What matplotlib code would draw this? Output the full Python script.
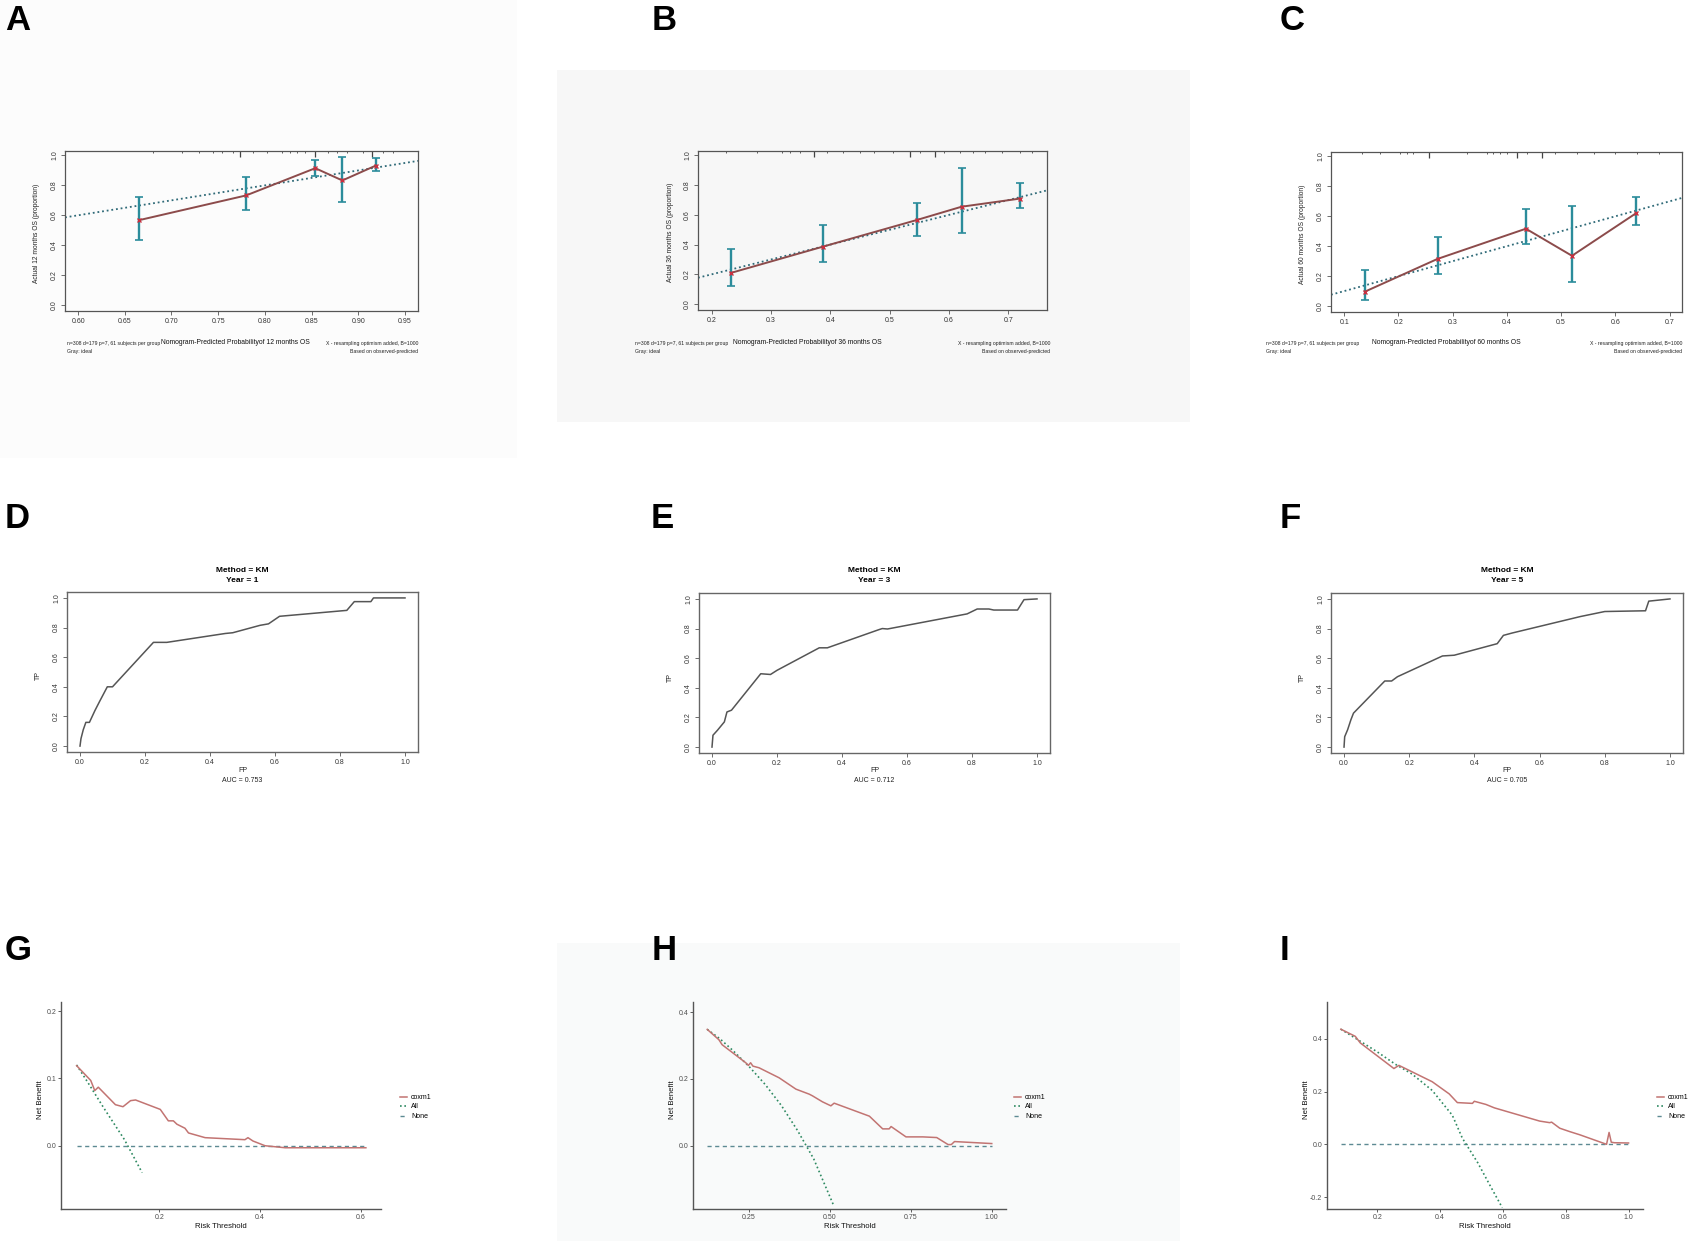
import matplotlib
matplotlib.use('Agg')
import matplotlib.pyplot as plt
from matplotlib.lines import Line2D
from matplotlib.patches import Rectangle
import numpy as np

plt.rcParams['font.family'] = ['Liberation Sans', 'DejaVu Sans']

# ---------------- data ----------------
# Calibration (A-C)
a_pred = [0.665, 0.780, 0.854, 0.883, 0.919]
a_obs = [0.567, 0.733, 0.915, 0.833, 0.933]
a_lo = [0.438, 0.638, 0.860, 0.689, 0.893]
a_hi = [0.722, 0.855, 0.973, 0.993, 0.982]
a_rug = [0.680, 0.711, 0.730, 0.745, 0.754, 0.766, 0.7875, 0.802, 0.818, 0.827, 0.834,
         0.843, 0.868, 0.877, 0.888, 0.905, 0.927, 0.9375]
a_rug_long = [0.773, 0.854, 0.915]

b_pred = [0.232, 0.388, 0.546, 0.621, 0.720]
b_obs = [0.209, 0.387, 0.566, 0.655, 0.710]
b_lo = [0.120, 0.280, 0.461, 0.476, 0.645]
b_hi = [0.372, 0.534, 0.683, 0.913, 0.815]
b_rug = [0.225, 0.276, 0.318, 0.332, 0.349, 0.394, 0.422, 0.450, 0.473, 0.506, 0.551,
         0.591, 0.619, 0.641, 0.660, 0.690, 0.720, 0.740]
b_rug_long = [0.373, 0.534, 0.577]

c_pred = [0.138, 0.272, 0.435, 0.520, 0.638]
c_obs = [0.096, 0.315, 0.517, 0.336, 0.620]
c_lo = [0.040, 0.211, 0.418, 0.160, 0.540]
c_hi = [0.238, 0.463, 0.647, 0.670, 0.730]
c_rug = [0.132, 0.166, 0.203, 0.215, 0.227, 0.326, 0.363, 0.375, 0.387, 0.400, 0.437,
         0.489, 0.530, 0.560, 0.600, 0.640, 0.680]
c_rug_long = [0.256, 0.418, 0.465]

# ROC (D-F)
d_fp = [0.0, 0.003, 0.010, 0.018, 0.029, 0.046, 0.060, 0.084, 0.100, 0.226, 0.267, 0.447,
        0.470, 0.554, 0.580, 0.614, 0.821, 0.844, 0.895, 0.903, 1.0]
d_tp = [0.0, 0.05, 0.11, 0.16, 0.16, 0.24, 0.30, 0.40, 0.40, 0.70, 0.70, 0.76,
        0.765, 0.815, 0.825, 0.876, 0.916, 0.975, 0.975, 1.0, 1.0]
e_fp = [0.0, 0.003, 0.017, 0.038, 0.046, 0.060, 0.150, 0.180, 0.200, 0.330, 0.355, 0.514,
        0.524, 0.540, 0.785, 0.816, 0.852, 0.867, 0.940, 0.960, 1.0]
e_tp = [0.0, 0.08, 0.114, 0.17, 0.237, 0.249, 0.495, 0.49, 0.518, 0.67, 0.67, 0.793,
        0.80, 0.797, 0.899, 0.932, 0.932, 0.925, 0.925, 0.995, 1.0]
f_fp = [0.0, 0.002, 0.011, 0.021, 0.029, 0.125, 0.146, 0.164, 0.302, 0.338, 0.470, 0.489,
        0.516, 0.725, 0.800, 0.925, 0.935, 1.0]
f_tp = [0.0, 0.07, 0.117, 0.184, 0.229, 0.446, 0.446, 0.475, 0.615, 0.62, 0.698, 0.754,
        0.77, 0.881, 0.915, 0.92, 0.985, 1.0]
auc_labels = ["AUC = 0.753", "AUC = 0.712", "AUC = 0.705"]
years = ["1", "3", "5"]

# DCA (G-I)
g_t = [0.036, 0.064, 0.072, 0.079, 0.113, 0.128, 0.143, 0.153, 0.202, 0.218, 0.228, 0.235,
       0.251, 0.258, 0.291, 0.370, 0.376, 0.386, 0.410, 0.450, 0.610]
g_nb = [0.119, 0.097, 0.082, 0.087, 0.061, 0.058, 0.067, 0.068, 0.054, 0.037, 0.037, 0.032,
        0.026, 0.019, 0.012, 0.009, 0.012, 0.007, 0.0, -0.003, -0.003]
g_all_t = [0.036, 0.060, 0.090, 0.131, 0.166]
g_all_nb = [0.120, 0.092, 0.056, 0.009, -0.040]

h_t = [0.121, 0.157, 0.167, 0.240, 0.248, 0.255, 0.262, 0.281, 0.343, 0.395, 0.436, 0.446,
       0.477, 0.503, 0.513, 0.622, 0.663, 0.683, 0.689, 0.735, 0.787, 0.830, 0.865, 0.875,
       0.885, 1.0]
h_nb = [0.348, 0.317, 0.302, 0.248, 0.240, 0.248, 0.238, 0.233, 0.203, 0.169, 0.154, 0.149,
        0.131, 0.119, 0.127, 0.088, 0.050, 0.050, 0.057, 0.026, 0.026, 0.024, 0.003, 0.003,
        0.012, 0.006]
h_all_t = [0.121, 0.160, 0.200, 0.250, 0.300, 0.350, 0.400, 0.450, 0.510]
h_all_nb = [0.348, 0.320, 0.285, 0.237, 0.183, 0.120, 0.045, -0.040, -0.176]

i_t = [0.084, 0.130, 0.146, 0.253, 0.269, 0.375, 0.429, 0.455, 0.503, 0.509, 0.546, 0.573,
       0.717, 0.749, 0.755, 0.781, 0.813, 0.845, 0.930, 0.938, 0.945, 0.955, 1.0]
i_nb = [0.436, 0.409, 0.384, 0.287, 0.299, 0.237, 0.191, 0.158, 0.155, 0.163, 0.151, 0.138,
        0.088, 0.082, 0.084, 0.061, 0.048, 0.036, 0.0, 0.045, 0.008, 0.006, 0.005]
i_all_t = [0.084, 0.141, 0.200, 0.258, 0.311, 0.375, 0.439, 0.471, 0.520, 0.560, 0.598]
i_all_nb = [0.436, 0.394, 0.350, 0.303, 0.266, 0.204, 0.110, 0.023, -0.070, -0.158, -0.240]

legend_labels = ["coxm1", "All", "None"]

# ---------------- figure ----------------
W, H = 1697, 1241
fig = plt.figure(figsize=(W / 100, H / 100), dpi=100)


def px_axes(l, t, r, b):
    ax = fig.add_axes([l / W, 1 - b / H, (r - l) / W, (b - t) / H])
    ax.set_facecolor('none')
    return ax


def ftext(x, y, s, **kw):
    fig.text(x / W, 1 - y / H, s, **kw)


# faint panel backgrounds
for (l, t, r, b, c) in [(557, 70, 1190, 422, '#f7f7f7'), (557, 943, 1180, 1241, '#f9fafa'),
                        (0, 0, 517, 458, '#fcfcfc')]:
    fig.patches.append(Rectangle((l / W, 1 - b / H), (r - l) / W, (b - t) / H,
                                 transform=fig.transFigure, color=c, zorder=-10, lw=0))

# panel letters
for s, x, y in [("A", 5, 21), ("B", 652, 21), ("C", 1280, 21),
                ("D", 5, 518), ("E", 651, 518), ("F", 1280, 518),
                ("G", 5, 950), ("H", 652, 950), ("I", 1280, 950)]:
    ftext(x, y, s, fontsize=25, fontweight='bold', ha='left', va='center')

# ---------------- calibration panels ----------------
ERR_C = '#2b8c9b'
LINE_C = '#8c4b4b'
DIAG_C = '#2f6a78'
AX_C = '#555555'


def calib(box, xlim, xticks, fmt, pred, obs, lo, hi, rug, rug_long, months, cap):
    ax = px_axes(*box)
    ax.set_xlim(xlim)
    ax.set_ylim(-0.04, 1.03)
    ax.plot(xlim, xlim, ls=(0, (1, 1.6)), color=DIAG_C, lw=1.3, zorder=2)
    obs_a = np.array(obs)
    ax.errorbar(pred, obs, yerr=[obs_a - np.array(lo), np.array(hi) - obs_a], fmt='none',
                ecolor=ERR_C, elinewidth=1.7, capsize=2.6, capthick=1.2, zorder=3)
    ax.plot(pred, obs, color=LINE_C, lw=1.4, zorder=4)
    ax.plot(pred, obs, 'x', color='#c83040', ms=2.8, mew=1.0, zorder=5)
    ax.vlines(rug, 1.03 - 0.012, 1.03, color='#444', lw=0.6)
    ax.vlines(rug_long, 1.03 - 0.04, 1.03, color='#444', lw=0.9)
    ax.set_xticks(xticks)
    ax.set_xticklabels([fmt % v for v in xticks])
    ax.set_yticks([0, 0.2, 0.4, 0.6, 0.8, 1.0])
    ax.set_yticklabels(['0.0', '0.2', '0.4', '0.6', '0.8', '1.0'], rotation=90, va='center')
    ax.tick_params(length=3, width=0.6, labelsize=5, color=AX_C, labelcolor='#333', pad=2)
    for sp in ax.spines.values():
        sp.set_color(AX_C)
        sp.set_linewidth(0.9)
    l, t, r, b = box
    ftext(l - 28, (t + b) / 2 + 2, "Actual %s months OS (proportion)" % months, rotation=90,
          fontsize=4.8, ha='center', va='center', color='#222')
    cl, cc, cr = cap
    ftext(cl, 344, "n=308 d=179 p=7, 61 subjects per group", fontsize=3.7, ha='left',
          va='center', color='#222')
    ftext(cl, 351, "Gray: ideal", fontsize=3.7, ha='left', va='center', color='#222')
    ftext(cc, 343, "Nomogram-Predicted Probabilityof %s months OS" % months, fontsize=4.9,
          ha='center', va='center', color='#111')
    ftext(cr, 344, "X - resampling optimism added, B=1000", fontsize=3.7, ha='right',
          va='center', color='#222')
    ftext(cr, 351, "Based on observed-predicted", fontsize=3.7, ha='right', va='center',
          color='#222')
    return ax


calib((65, 151, 418, 311), (0.586, 0.964), [0.60, 0.65, 0.70, 0.75, 0.80, 0.85, 0.90, 0.95],
      '%.2f', a_pred, a_obs, a_lo, a_hi, a_rug, a_rug_long, "12", (67, 235, 418))
calib((698, 151, 1047, 310), (0.177, 0.765), [0.2, 0.3, 0.4, 0.5, 0.6, 0.7],
      '%.1f', b_pred, b_obs, b_lo, b_hi, b_rug, b_rug_long, "36", (635, 807, 1050))
calib((1331, 152, 1682, 312), (0.0755, 0.723), [0.1, 0.2, 0.3, 0.4, 0.5, 0.6, 0.7],
      '%.1f', c_pred, c_obs, c_lo, c_hi, c_rug, c_rug_long, "60", (1266, 1446, 1682))

# ---------------- ROC panels ----------------
roc_boxes = [(67, 592, 418, 752), (699, 593, 1050, 753), (1331, 593, 1683, 753)]
roc_data = [(d_fp, d_tp), (e_fp, e_tp), (f_fp, f_tp)]
for box, (fp, tp), auc, yr in zip(roc_boxes, roc_data, auc_labels, years):
    ax = px_axes(*box)
    ax.plot(fp, tp, color='#555555', lw=1.1)
    ax.set_xlim(-0.04, 1.04)
    ax.set_ylim(-0.04, 1.04)
    ticks = [0, 0.2, 0.4, 0.6, 0.8, 1.0]
    tl = ['0.0', '0.2', '0.4', '0.6', '0.8', '1.0']
    ax.set_xticks(ticks)
    ax.set_xticklabels(tl)
    ax.set_yticks(ticks)
    ax.set_yticklabels(tl, rotation=90, va='center')
    ax.tick_params(length=3, width=0.6, labelsize=5, color=AX_C, labelcolor='#333', pad=2)
    for sp in ax.spines.values():
        sp.set_color('#666')
        sp.set_linewidth(1.0)
    l, t, r, b = box
    cx = (l + r) / 2
    ftext(cx, 570, "Method = KM", fontsize=6, fontweight='bold', ha='center', va='center')
    ftext(cx, 580, "Year = %s" % yr, fontsize=6, fontweight='bold', ha='center', va='center')
    ftext(cx, 771, "FP", fontsize=5, ha='center', va='center', color='#222')
    ftext(cx, 780, auc, fontsize=5, ha='center', va='center', color='#222')
    ftext(l - 29, (t + b) / 2 + 4, "TP", fontsize=5, rotation=90, ha='center', va='center',
          color='#222')

# ---------------- DCA panels ----------------
RED = '#c27472'
GREEN = '#2f8a62'
NONE_C = '#5d8a93'


def dca(box, xlim, ylim, xticks, xtl, yticks, ytl, t, nb, all_t, all_nb, leg_xy):
    ax = px_axes(*box)
    ax.plot([t[0], t[-1]], [0, 0], color=NONE_C, lw=1.0, ls=(0, (3, 2.5)))
    ax.plot(all_t, all_nb, color=GREEN, lw=1.2, ls=(0, (1, 1.6)))
    ax.plot(t, nb, color=RED, lw=1.1)
    ax.set_xlim(xlim)
    ax.set_ylim(ylim)
    ax.set_xticks(xticks)
    ax.set_xticklabels(xtl)
    ax.set_yticks(yticks)
    ax.set_yticklabels(ytl)
    ax.tick_params(length=2, width=0.6, labelsize=5, color='#444', labelcolor='#4d4d4d', pad=1.5)
    for s in ('top', 'right'):
        ax.spines[s].set_visible(False)
    for s in ('left', 'bottom'):
        ax.spines[s].set_color('#555')
        ax.spines[s].set_linewidth(1.0)
    l, tp, r, b = box
    ftext((l + r) / 2, 1227, "Risk Threshold", fontsize=5.6, ha='center', va='center',
          color='#111')
    ftext(l - 21, 1100, "Net Benefit", fontsize=5.6, rotation=90, ha='center', va='center',
          color='#111')
    handles = [Line2D([], [], color=RED, lw=1.1),
               Line2D([], [], color=GREEN, lw=1.2, ls=(0, (1, 1.6))),
               Line2D([], [], color=NONE_C, lw=1.0, ls=(0, (3, 2.5)))]
    lx, ly = leg_xy
    ax.legend(handles, legend_labels, loc='center left',
              bbox_to_anchor=(lx / W, 1 - ly / H), bbox_transform=fig.transFigure,
              frameon=False, fontsize=5, handlelength=1.0, handletextpad=0.6,
              labelspacing=0.35, borderpad=0, borderaxespad=0)
    return ax


dca((61, 1002, 381, 1209), (0.005, 0.64), (-0.094, 0.2136), [0.2, 0.4, 0.6],
    ['0.2', '0.4', '0.6'], [0.0, 0.1, 0.2], ['0.0', '0.1', '0.2'],
    g_t, g_nb, g_all_t, g_all_nb, (400, 1107))
dca((693, 1002, 1006, 1209), (0.077, 1.044), (-0.19, 0.43), [0.25, 0.50, 0.75, 1.00],
    ['0.25', '0.50', '0.75', '1.00'], [0.0, 0.2, 0.4], ['0.0', '0.2', '0.4'],
    h_t, h_nb, h_all_t, h_all_nb, (1014, 1107))
dca((1327, 1002, 1643, 1209), (0.04, 1.046), (-0.245, 0.539), [0.2, 0.4, 0.6, 0.8, 1.0],
    ['0.2', '0.4', '0.6', '0.8', '1.0'], [-0.2, 0.0, 0.2, 0.4], ['-0.2', '0.0', '0.2', '0.4'],
    i_t, i_nb, i_all_t, i_all_nb, (1657, 1107))

fig.savefig('out.png', dpi=100, facecolor='white')
